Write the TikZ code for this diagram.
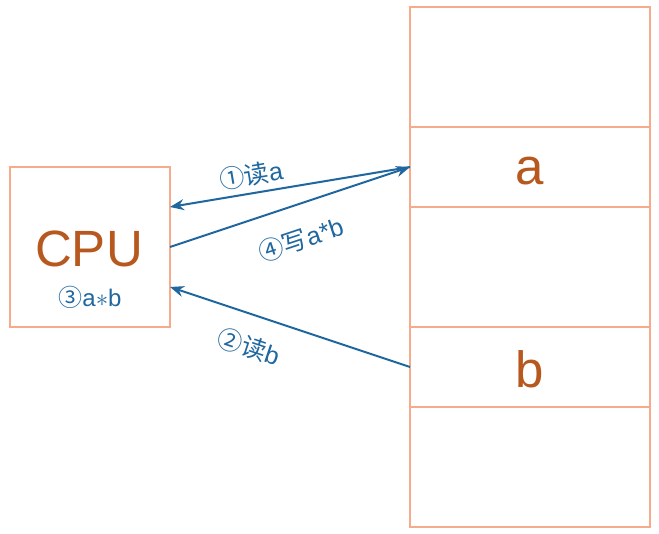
\documentclass[tikz,border=0pt]{standalone}
\usepackage{fontspec}
\setmainfont{Liberation Sans}
\newfontfamily\cjk{Noto Sans CJK SC}
\usetikzlibrary{positioning,arrows.meta}
\definecolor{cellline}{RGB}{247,170,140}
\definecolor{valtext}{RGB}{183,88,30}
\definecolor{busblue}{RGB}{31,103,158}

\begin{document}
\begin{tikzpicture}[x=1pt,y=1pt,
    cell/.style={draw=cellline,line width=2pt,minimum width=240pt,outer sep=0pt,inner sep=0pt},
    val/.style={text=valtext,font=\fontsize{51}{56}\selectfont},
    bus/.style={draw=busblue,line width=2pt,-{Stealth[length=14pt,width=11pt]}},
    step label/.style={text=busblue,font=\fontsize{25}{28}\selectfont,sloped}]
    \useasboundingbox (0,0) rectangle (659,534);

    % cpu
    \node[cell,minimum width=160pt,minimum height=160pt] (cpu) at (90,287) {};
    \node[val] (cpuname) at (89,285) {CPU};
    \node[text=busblue,font=\fontsize{24}{28}\selectfont] (cpustep) at (90,237) {{\cjk ③}a$\ast$b};

    % memory
    \node[cell,minimum height=120pt] (m1) at (530,467) {};
    \node[cell,minimum height=80pt,below=0pt of m1] (ma) {};
    \node[cell,minimum height=120pt,below=0pt of ma] (m3) {};
    \node[cell,minimum height=80pt,below=0pt of m3] (mb) {};
    \node[cell,minimum height=120pt,below=0pt of mb] (m5) {};
    \node[val] (aval) at ([yshift=-4pt]ma.center) {a};
    \node[val] (bval) at ([yshift=-2pt]mb.center) {b};

    \draw[bus] (ma.west) -- ([yshift=40pt]cpu.east)
        node[step label,pos=0.65,above=2pt] {{\cjk ①读}a};
    \draw[bus] (cpu.east) -- (ma.west)
        node[step label,pos=0.5,below=18pt] {{\cjk ④写}a*b};
    \draw[bus] (mb.west) -- ([yshift=-40pt]cpu.east)
        node[step label,pos=0.63,below=16pt] {{\cjk ②读}b};
\end{tikzpicture}
\end{document}
